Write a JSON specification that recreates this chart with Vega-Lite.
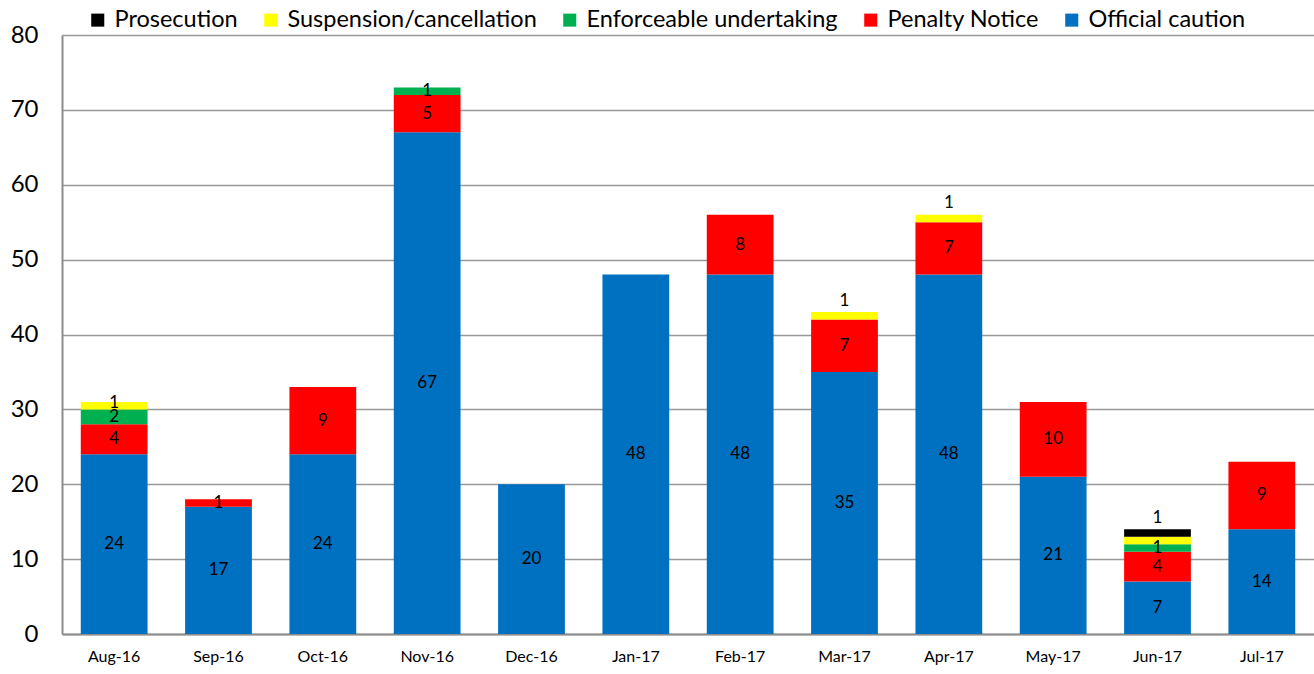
{
  "$schema": "https://vega.github.io/schema/vega-lite/v6.json",
  "width": 1252,
  "height": 599,
  "autosize": {"type": "none"},
  "padding": {"left": 62, "top": 35, "right": 0, "bottom": 40},
  "background": "white",
  "config": {"font": "Lato", "view": {"stroke": null}},
  "data": {
    "values": [
      {"month": "Aug-16", "type": "Official caution", "count": 24},
      {"month": "Aug-16", "type": "Penalty Notice", "count": 4},
      {"month": "Aug-16", "type": "Enforceable undertaking", "count": 2},
      {"month": "Aug-16", "type": "Suspension/cancellation", "count": 1},
      {"month": "Sep-16", "type": "Official caution", "count": 17},
      {"month": "Sep-16", "type": "Penalty Notice", "count": 1},
      {"month": "Oct-16", "type": "Official caution", "count": 24},
      {"month": "Oct-16", "type": "Penalty Notice", "count": 9},
      {"month": "Nov-16", "type": "Official caution", "count": 67},
      {"month": "Nov-16", "type": "Penalty Notice", "count": 5},
      {"month": "Nov-16", "type": "Enforceable undertaking", "count": 1},
      {"month": "Dec-16", "type": "Official caution", "count": 20},
      {"month": "Jan-17", "type": "Official caution", "count": 48},
      {"month": "Feb-17", "type": "Official caution", "count": 48},
      {"month": "Feb-17", "type": "Penalty Notice", "count": 8},
      {"month": "Mar-17", "type": "Official caution", "count": 35},
      {"month": "Mar-17", "type": "Penalty Notice", "count": 7},
      {"month": "Mar-17", "type": "Suspension/cancellation", "count": 1},
      {"month": "Apr-17", "type": "Official caution", "count": 48},
      {"month": "Apr-17", "type": "Penalty Notice", "count": 7},
      {"month": "Apr-17", "type": "Suspension/cancellation", "count": 1},
      {"month": "May-17", "type": "Official caution", "count": 21},
      {"month": "May-17", "type": "Penalty Notice", "count": 10},
      {"month": "Jun-17", "type": "Official caution", "count": 7},
      {"month": "Jun-17", "type": "Penalty Notice", "count": 4},
      {"month": "Jun-17", "type": "Enforceable undertaking", "count": 1},
      {"month": "Jun-17", "type": "Suspension/cancellation", "count": 1},
      {"month": "Jun-17", "type": "Prosecution", "count": 1},
      {"month": "Jul-17", "type": "Official caution", "count": 14},
      {"month": "Jul-17", "type": "Penalty Notice", "count": 9}
    ]
  },
  "transform": [
    {"calculate": "indexof(['Official caution','Penalty Notice','Enforceable undertaking','Suspension/cancellation','Prosecution'], datum.type)", "as": "ord"},
    {"stack": "count", "groupby": ["month"], "sort": [{"field": "ord", "order": "ascending"}], "as": ["y0", "y1"]},
    {"calculate": "(datum.type === 'Prosecution' || (datum.type === 'Suspension/cancellation' && (datum.month === 'Mar-17' || datum.month === 'Apr-17'))) ? datum.y1 + 1.5 : (datum.y0 + datum.y1) / 2 + (datum.type === 'Suspension/cancellation' ? 0.35 : 0)", "as": "ymid"}
  ],
  "encoding": {
    "x": {
      "field": "month",
      "type": "nominal",
      "sort": ["Aug-16","Sep-16","Oct-16","Nov-16","Dec-16","Jan-17","Feb-17","Mar-17","Apr-17","May-17","Jun-17","Jul-17"],
      "scale": {"paddingInner": 0.36, "paddingOuter": 0.18},
      "axis": {
        "title": null,
        "labelAngle": 0,
        "labelFontSize": 16,
        "labelColor": "#000000",
        "labelPadding": 14,
        "ticks": false,
        "domainColor": "#8c8c8c",
        "domainWidth": 2
      }
    }
  },
  "layer": [
    {
      "mark": {"type": "bar", "stroke": null},
      "encoding": {
        "y": {
          "field": "y0",
          "type": "quantitative",
          "scale": {"domain": [0, 80], "nice": false},
          "axis": {
            "title": null,
            "values": [0,10,20,30,40,50,60,70,80],
            "labelFontSize": 24,
            "labelColor": "#000000",
            "labelPadding": 24,
            "ticks": false,
            "grid": true,
            "gridColor": "#999999",
            "gridWidth": 1.5,
            "domainColor": "#8c8c8c",
            "domainWidth": 2
          }
        },
        "y2": {"field": "y1"},
        "color": {
          "field": "type",
          "type": "nominal",
          "scale": {
            "domain": ["Prosecution", "Suspension/cancellation", "Enforceable undertaking", "Penalty Notice", "Official caution"],
            "range": ["#000000", "#FFFF00", "#00B050", "#FF0000", "#0070C0"]
          },
          "legend": {
            "title": null,
            "orient": "none",
            "direction": "horizontal",
            "legendX": 24,
            "legendY": -27,
            "symbolType": "square",
            "symbolSize": 170,
            "symbolStrokeWidth": 0,
            "labelFontSize": 23.5,
            "labelColor": "#000000",
            "labelOffset": 5,
            "columnPadding": 21,
            "labelLimit": 400
          }
        }
      }
    },
    {
      "transform": [{"filter": "!(datum.month === 'Jun-17' && datum.type === 'Suspension/cancellation')"}],
      "mark": {"type": "text", "fontSize": 17, "color": "#000000", "baseline": "middle"},
      "encoding": {
        "y": {"field": "ymid", "type": "quantitative"},
        "text": {"field": "count", "type": "quantitative"}
      }
    }
  ]
}
